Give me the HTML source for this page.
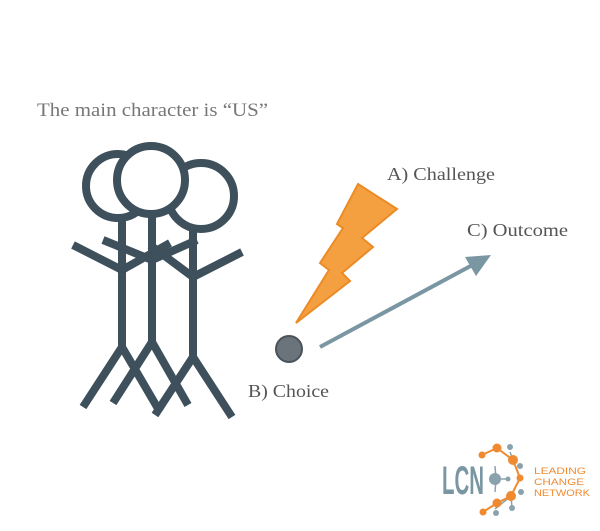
<!DOCTYPE html>
<html><head><meta charset="utf-8"><style>
html,body{margin:0;padding:0;background:#fff;}
svg{display:block;}
text{font-family:"Liberation Serif",serif;}
text.sans{font-family:"Liberation Sans",sans-serif;}
</style></head><body>
<svg width="600" height="531" viewBox="0 0 600 531">
<text x="37" y="116" font-size="19" fill="#777" textLength="231" lengthAdjust="spacingAndGlyphs">The main character is “US”</text>
<g stroke="#3e505b" stroke-width="8" fill="none" stroke-linecap="butt">
 <g>
  <circle cx="118" cy="186" r="32" fill="#fff"/>
  <line x1="122" y1="218" x2="122" y2="347"/>
  <polyline points="73,245 122,270 170,243"/>
  <polyline points="83,407 122,347 160,412"/>
 </g>
 <g>
  <circle cx="201" cy="196" r="33" fill="#fff"/>
  <line x1="193" y1="229" x2="193" y2="357"/>
  <polyline points="150,245 193,277 242,252"/>
  <polyline points="155,415 193,357 232,417"/>
 </g>
 <g>
  <circle cx="151" cy="180" r="34" fill="#fff"/>
  <line x1="152" y1="214" x2="152" y2="342"/>
  <polyline points="103,240 152,260 197,240"/>
  <polyline points="113,403 152,342 188,405"/>
 </g>
</g>
<polygon points="358,184 397,209 362,238 373,247 342,273 350,281 296,323 329,270 320,263 343,228 337,224" fill="#f4a040" stroke="#ec8a25" stroke-width="2"/>
<text x="387" y="180" font-size="18" fill="#555" textLength="108" lengthAdjust="spacingAndGlyphs">A) Challenge</text>
<circle cx="289" cy="349" r="13" fill="#6b747b" stroke="#4a535a" stroke-width="2"/>
<text x="248" y="397" font-size="18" fill="#555" textLength="81" lengthAdjust="spacingAndGlyphs">B) Choice</text>
<g>
 <line x1="320" y1="347" x2="478" y2="262" stroke="#7a96a3" stroke-width="4"/>
 <polygon points="491,255 465,257 476,276" fill="#7a96a3"/>
</g>
<text x="467" y="236" font-size="18" fill="#555" textLength="101" lengthAdjust="spacingAndGlyphs">C) Outcome</text>
<g>
 <text class="sans" x="442" y="494" font-size="40" font-weight="bold" fill="#7a96a3" textLength="42" lengthAdjust="spacingAndGlyphs">LCN</text>
 <g stroke="#8aa2ae" stroke-width="1.5">
  <line x1="496" y1="479" x2="508" y2="479"/><line x1="496" y1="479" x2="495" y2="466"/><line x1="496" y1="479" x2="495" y2="492"/>
  <line x1="513" y1="460" x2="520" y2="478"/><line x1="520" y1="478" x2="511" y2="496"/>
  <line x1="497" y1="448" x2="513" y2="460"/><line x1="510" y1="452" x2="513" y2="460"/>
  <line x1="511" y1="496" x2="495" y2="509"/><line x1="511" y1="496" x2="512" y2="508"/>
 </g>
 <g stroke="#f08a30" stroke-width="2" fill="none">
  <polyline points="482,455 497,448 513,460 520,478 511,496 497,503 483,512"/>
 </g>
 <g fill="#f08a30">
  <circle cx="482" cy="455" r="3.5"/><circle cx="497" cy="448" r="4.5"/><circle cx="513" cy="460" r="5"/>
  <circle cx="520" cy="478" r="3.5"/><circle cx="511" cy="496" r="5"/><circle cx="497" cy="503" r="4.5"/><circle cx="483" cy="512" r="3.5"/>
 </g>
 <g fill="#8aa2ae">
  <circle cx="495" cy="479" r="6"/><circle cx="510" cy="447" r="3"/><circle cx="520" cy="466" r="3"/>
  <circle cx="521" cy="492" r="3"/><circle cx="512" cy="508" r="3"/><circle cx="496" cy="513" r="3"/>
  <circle cx="508" cy="479" r="2.5"/>
 </g>
 <g font-size="9.5" fill="#f08a30">
  <text class="sans" x="534" y="474" textLength="52" lengthAdjust="spacingAndGlyphs">LEADING</text>
  <text class="sans" x="534" y="485" textLength="50" lengthAdjust="spacingAndGlyphs">CHANGE</text>
  <text class="sans" x="534" y="496" textLength="56" lengthAdjust="spacingAndGlyphs">NETWORK</text>
 </g>
</g>
</svg>
</body></html>
